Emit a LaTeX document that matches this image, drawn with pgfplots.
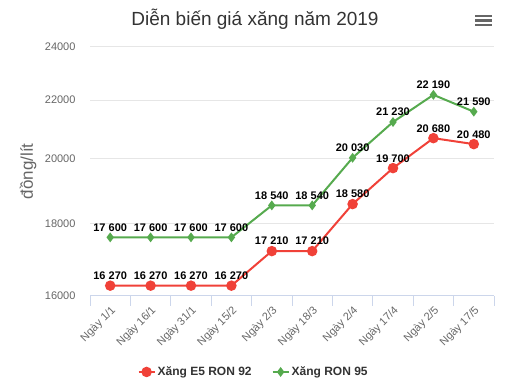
\documentclass[border=0pt]{standalone}
\usepackage{pgfplots}
\pgfplotsset{compat=1.18}
\usepackage{fontspec}
\setmainfont{Liberation Sans}
\definecolor{cred}{RGB}{240,65,56}
\definecolor{cgreen}{RGB}{86,170,78}
\definecolor{cgrid}{RGB}{230,230,230}
\definecolor{caxis}{RGB}{204,214,235}
\definecolor{ctext}{RGB}{102,102,102}
\definecolor{ctitle}{RGB}{51,51,51}
\begin{document}
\begin{tikzpicture}
\path[use as bounding box] (0,0) rectangle (513bp,-383bp);
\node[font=\fontsize{19bp}{22bp}\selectfont, text=ctitle] at (255bp,-19bp) {Diễn biến giá xăng năm 2019};
\draw[ctext, line width=2.5bp] (475bp,-16bp) -- (492bp,-16bp);
\draw[ctext, line width=2.5bp] (475bp,-20.5bp) -- (492bp,-20.5bp);
\draw[ctext, line width=2.5bp] (475bp,-25bp) -- (492bp,-25bp);
\begin{axis}[
  at={(90bp,-296bp)}, anchor=south west,
  scale only axis, width=404bp, height=249.3bp,
  clip=false,
  ymode=log, ymin=16000, ymax=24000,
  xmin=-0.5, xmax=9.5,
  ytick={16000,18000,20000,22000,24000},
  yticklabels={16000,18000,20000,22000,24000},
  xtick={0,...,9},
  xticklabels={Ngày 1/1,Ngày 16/1,Ngày 31/1,Ngày 15/2,Ngày 2/3,Ngày 18/3,Ngày 2/4,Ngày 17/4,Ngày 2/5,Ngày 17/5},
  minor xtick={-0.5,0.5,...,9.5},
  axis x line*=bottom, axis y line*=left,
  x axis line style={caxis, line width=1bp, -},
  y axis line style={draw=none},
  ymajorgrids, major grid style={cgrid, line width=1bp},
  major tick length=0pt, minor tick length=10bp, tick align=outside,
  minor x tick style={caxis, line width=1bp},
  major tick style={draw=none},
  tick label style={font=\fontsize{11bp}{13bp}\selectfont, text=ctext},
  yticklabel style={xshift=-11bp},
  xticklabel style={rotate=45, anchor=north east, inner sep=0pt},
  xticklabel shift=9bp,
  ylabel={đồng/lít},
  ylabel style={at={(axis description cs:-0.153,0.5)}, anchor=center, font=\fontsize{17bp}{20bp}\selectfont, text=ctext},
  legend style={at={(0.405,-0.305)}, anchor=center, draw=none, fill=none, legend columns=2,
    font=\bfseries\fontsize{12bp}{14bp}\selectfont, text=ctitle,
    /tikz/every even column/.append style={column sep=18bp}},
  legend cell align=left,
  legend image code/.code={\draw[mark repeat=2,mark phase=2,#1] plot coordinates {(0bp,0bp) (8bp,0bp) (16bp,0bp)};},
  nodes near coords, point meta=explicit symbolic,
  every node near coord/.append style={font=\bfseries\fontsize{11bp}{13bp}\selectfont, text=black, anchor=south, inner sep=0pt, yshift=5bp},
]
\addplot[cred, line width=2bp, mark=*, mark size=4.2bp, mark options={solid, fill=cred, draw=cred}] coordinates {
(0,16270)[16 270] (1,16270)[16 270] (2,16270)[16 270] (3,16270)[16 270] (4,17210)[17 210]
(5,17210)[17 210] (6,18580)[18 580] (7,19700)[19 700] (8,20680)[20 680] (9,20480)[20 480]};
\addlegendentry{Xăng E5 RON 92}
\addplot[cgreen, line width=2bp, mark=diamond*, mark size=3.3bp, mark options={solid, fill=cgreen, draw=cgreen}] coordinates {
(0,17600)[17 600] (1,17600)[17 600] (2,17600)[17 600] (3,17600)[17 600] (4,18540)[18 540]
(5,18540)[18 540] (6,20030)[20 030] (7,21230)[21 230] (8,22190)[22 190] (9,21590)[21 590]};
\addlegendentry{Xăng RON 95}
\end{axis}
\end{tikzpicture}
\end{document}
